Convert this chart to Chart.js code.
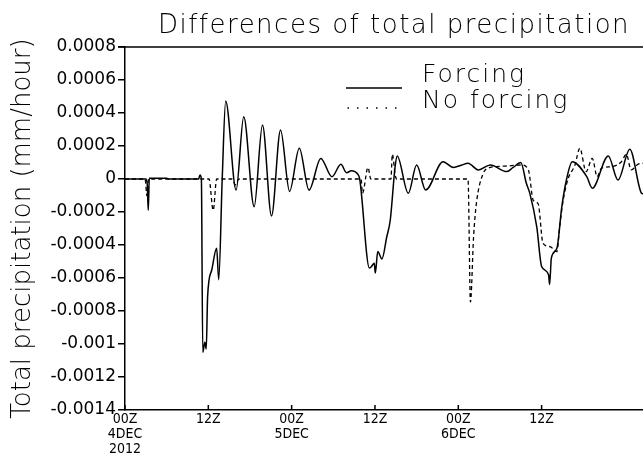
<!DOCTYPE html>
<html lang="en">
<head>
  <meta charset="UTF-8" />
  <title>Differences of total precipitation</title>
  <script src="https://cdn.jsdelivr.net/npm/chart.js"></script>
  <style>
    body { margin: 0; background: #fff; }
    canvas { display: block; }
  </style>
</head>
<body>
  <canvas id="precipChart" width="643" height="459"></canvas>

  <script>
    // hours since 00Z 4 Dec 2012, precipitation difference in mm/hour
    const forcingHours = [
      0, 3.0, 3.2, 3.35, 3.5, 6.0, 6.3, 10.6, 10.8, 11.0, 11.2, 11.5, 11.7, 11.9,
      12.5, 13.2, 13.5, 14.0, 14.5, 16.0, 17.1, 18.6, 19.8, 21.1, 22.4, 23.7,
      25.1, 26.5, 28.2, 29.8, 31.1, 31.9, 32.6, 33.5, 33.8, 35.2, 35.5, 35.9,
      36.05, 36.4, 37.0, 37.7, 38.2, 38.9, 39.2, 40.8, 42.0, 43.3, 45.8, 47.3,
      48.5, 49.4, 50.9, 52.6, 55.0, 55.9, 57.0, 57.8, 58.3, 59.3, 60.0, 61.0,
      61.15, 61.4, 62.2, 62.9, 63.6, 64.4, 66.5, 67.3, 69.6, 71.0, 72.7, 74.4, 74.6
    ];
    const forcingValues = [
      0, 0, -0.00003, -0.00019, 0.000004, 0.000004, 0, 0, 0.000024, 0, -0.00105, -0.00099, -0.00103, -0.00071,
      -0.00055, -0.00042, -0.00061, 0, 0.000473, -0.000067, 0.000378, -0.000168, 0.000327, -0.000224, 0.000297, -0.000075,
      0.000187, -0.000067, 0.000125, 0.000014, 0.000089, 0.000038, 0.00005, 0.00003, 0, -0.00054, -0.00053, -0.00051,
      -0.00057, -0.00044, -0.000485, -0.00035, -0.00025, 0.000075, 0.00014, -0.000087, 0.000085, -0.000067, 0.000105, 0.00007,
      0.000085, 0.000095, 0.000055, 0.000085, 0.000045, 0.00007, 0.0001, -0.000026, -0.000087, -0.00029, -0.00053, -0.00058,
      -0.00064, -0.00048, -0.00042, -0.00017, 0, 0.000105, 0.000014, -0.000056, 0.00014, -0.000006, 0.00018, -0.000087, -0.00009
    ];

    const noForcingHours = [
      0, 2.9, 3.15, 3.4, 12.1, 12.7, 13.2, 15.4, 15.9, 16.4, 34.0, 34.2, 35.0, 35.4,
      38.3, 38.5, 38.9, 39.1, 49.4, 49.75, 50.2, 50.6, 51.6, 52.6, 53.5, 55.4, 57.1,
      58.1, 58.8, 59.5, 60.2, 61.2, 62.2, 62.6, 63.1, 63.8, 64.8, 65.5, 66.4, 67.3,
      68.0, 68.6, 70.1, 71.5, 72.2, 72.9, 73.9, 74.6
    ];
    const noForcingValues = [
      0, 0, -0.0001, 0, 0, -0.00019, 0, 0, -0.000035, 0, 0, -0.000087, 0.00007, 0,
      0, 0.00015, 0.00003, 0, 0, -0.000745, -0.00035, -0.00015, 0.000035, 0.00007, 0.000075, 0.00008, 0.000085,
      0.000055, -0.00013, -0.00015, -0.00039, -0.00041, -0.00044, -0.00029, -0.00013, 0, 0.000085, 0.000186, 0.000045, 0.000125,
      0.000014, 0.000065, 0.000075, 0.000105, 0.00015, 0.000055, 0.00009, 0.000095
    ];

    const xTickHours = [0, 12, 24, 36, 48, 60];
    const xTickLabels = [['00Z', '4DEC', '2012'], '12Z', ['00Z', '5DEC'], '12Z', ['00Z', '6DEC'], '12Z'];
    const yTickLabels = ['-0.0014', '-0.0012', '-0.001', '-0.0008', '-0.0006', '-0.0004', '-0.0002',
                         '0', '0.0002', '0.0004', '0.0006', '0.0008'];

    const toPoints = (xs, ys) => xs.map((x, i) => ({ x: x, y: ys[i] }));

    // top frame line, inward x ticks, title and the line key
    const decorations = {
      id: 'decorations',
      afterDraw(chart) {
        const ctx = chart.ctx;
        const area = chart.chartArea;
        const xScale = chart.scales.x;
        ctx.save();
        ctx.strokeStyle = '#000';
        ctx.lineWidth = 1.5;
        ctx.beginPath();
        ctx.moveTo(area.left - 7, area.top);
        ctx.lineTo(chart.width, area.top);
        xTickHours.forEach(h => {
          const px = xScale.getPixelForValue(h);
          ctx.moveTo(px, area.bottom);
          ctx.lineTo(px, area.bottom - 5);
        });
        ctx.stroke();

        ctx.fillStyle = '#000';
        ctx.letterSpacing = '1.5px';
        ctx.font = '300 26px "DejaVu Sans"';
        ctx.textAlign = 'center';
        ctx.textBaseline = 'alphabetic';
        ctx.fillText('Differences of total precipitation', 394, 33);

        ctx.letterSpacing = '2px';
        ctx.font = '300 25px "DejaVu Sans"';
        ctx.textAlign = 'left';
        ctx.fillText('Forcing', 422, 82);
        ctx.fillText('No forcing', 422, 108);
        ctx.letterSpacing = '0px';

        ctx.beginPath();
        ctx.moveTo(346, 88);
        ctx.lineTo(402, 88);
        ctx.stroke();
        ctx.setLineDash([1.5, 8]);
        ctx.beginPath();
        ctx.moveTo(347.5, 108);
        ctx.lineTo(398, 108);
        ctx.stroke();
        ctx.restore();
      }
    };

    new Chart(document.getElementById('precipChart'), {
      type: 'line',
      data: {
        datasets: [
          {
            label: 'Forcing',
            data: toPoints(forcingHours, forcingValues),
            borderColor: '#000',
            borderWidth: 1.5,
            pointRadius: 0,
            cubicInterpolationMode: 'monotone'
          },
          {
            label: 'No forcing',
            data: toPoints(noForcingHours, noForcingValues),
            borderColor: '#000',
            borderWidth: 1.3,
            borderDash: [4, 3],
            pointRadius: 0,
            cubicInterpolationMode: 'monotone'
          }
        ]
      },
      options: {
        responsive: false,
        animation: false,
        devicePixelRatio: 1,
        layout: { padding: { top: 47, right: 0, bottom: 0, left: 0 } },
        plugins: {
          legend: { display: false },
          title: { display: false },
          tooltip: { enabled: false }
        },
        scales: {
          x: {
            type: 'linear',
            min: 0,
            max: 74.6,
            afterFit: scale => { scale.height = 49; },
            afterBuildTicks: scale => { scale.ticks = xTickHours.map(v => ({ value: v })); },
            grid: { display: true, drawOnChartArea: false, drawTicks: false },
            border: { color: '#000', width: 1.5 },
            ticks: {
              color: '#000',
              padding: 2,
              maxRotation: 0,
              autoSkip: false,
              font: { family: '"DejaVu Sans Condensed", "DejaVu Sans"', size: 14, lineHeight: '15px' },
              callback: (value, index) => xTickLabels[index]
            }
          },
          y: {
            min: -0.0014,
            max: 0.0008,
            afterFit: scale => { scale.width = 125; },
            grid: { drawOnChartArea: false, color: '#000', lineWidth: 1.5, tickLength: 7 },
            border: { color: '#000', width: 1.5 },
            title: {
              display: true,
              text: 'Total precipitation (mm/hour)',
              color: '#000',
              font: { family: '"DejaVu Sans"', size: 26, weight: 300 },
              padding: { top: 8, bottom: 0 }
            },
            ticks: {
              stepSize: 0.0002,
              color: '#000',
              padding: 2,
              font: { family: '"DejaVu Sans"', size: 17 },
              callback: (value, index) => yTickLabels[index]
            }
          }
        }
      },
      plugins: [decorations]
    });
  </script>
</body>
</html>
